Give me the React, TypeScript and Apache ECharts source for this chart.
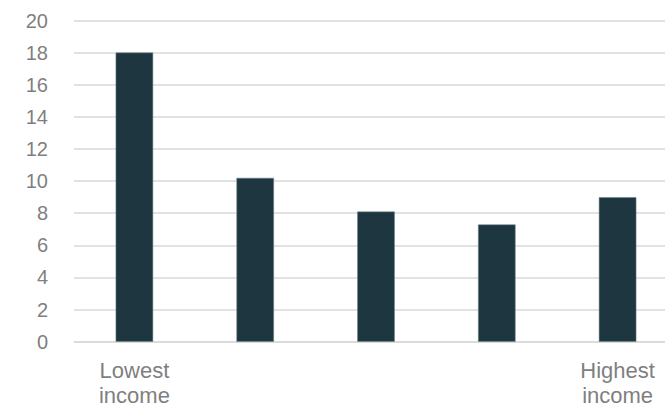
import React, { useEffect, useRef } from "react";
import * as echarts from "echarts";

const categories = ["Lowest\nincome", "", "", "", "Highest\nincome"];
const values = [18.0, 10.2, 8.1, 7.3, 9.0];
const yTicks = { min: 0, max: 20, interval: 2 };

export default function App() {
  const ref = useRef<HTMLDivElement>(null);
  useEffect(() => {
    document.body.style.margin = "0";
    document.body.style.overflow = "hidden";
    const chart = echarts.init(ref.current!, null, { renderer: "svg" });
    chart.setOption({
      animation: false,
      grid: { left: 74, top: 20.5, bottom: 66.3, right: 0 },
      xAxis: {
        type: "category",
        data: categories,
        axisLine: { show: true, lineStyle: { color: "#d9d9d9", width: 1.5 } },
        axisTick: { show: false },
        axisLabel: {
          color: "#7f7f7f",
          fontFamily: "Liberation Sans",
          fontSize: 22,
          lineHeight: 25,
          margin: 16,
          interval: 0,
        },
      },
      yAxis: {
        type: "value",
        min: yTicks.min,
        max: yTicks.max,
        interval: yTicks.interval,
        axisLine: { show: false },
        axisTick: { show: false },
        splitLine: { lineStyle: { color: "#d9d9d9", width: 1.5 } },
        axisLabel: {
          color: "#7f7f7f",
          fontFamily: "Liberation Sans",
          fontSize: 20,
          margin: 26,
        },
      },
      series: [
        {
          type: "bar",
          data: values,
          barWidth: "31%",
          itemStyle: { color: "#1e3640", borderColor: "#6f8188", borderWidth: 0.5 },
        },
      ],
    });
    return () => chart.dispose();
  }, []);
  return (
    <div style={{ width: 665, height: 408, overflow: "hidden", position: "relative" }}>
      <div ref={ref} style={{ width: 678, height: 408, position: "absolute", left: 0, top: 0 }} />
    </div>
  );
}
